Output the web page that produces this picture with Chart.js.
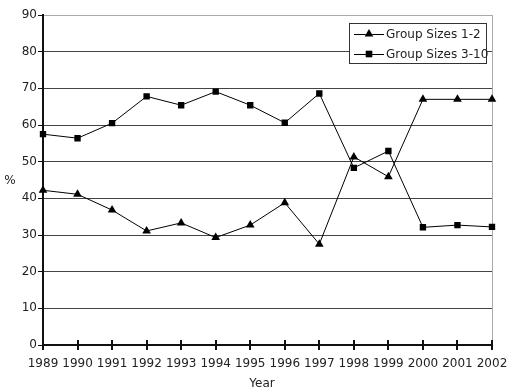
<!DOCTYPE html>
<html lang="en">
<head>
  <meta charset="UTF-8" />
  <title>Group Sizes</title>
  <script src="https://cdn.jsdelivr.net/npm/chart.js"></script>
  <style>
    body { margin: 0; padding: 0; background: #fff; }
    .wrap { width: 512px; height: 392px; position: relative; }
  </style>
</head>
<body>
  <div class="wrap">
    <canvas id="grafico" width="512" height="392"></canvas>
  </div>

  <script>
    const years = ["1989", "1990", "1991", "1992", "1993", "1994", "1995",
                   "1996", "1997", "1998", "1999", "2000", "2001", "2002"];
    const small = [42.2, 41.1, 36.8, 31.1, 33.3, 29.3, 32.7, 38.8, 27.5, 51.3, 45.9, 67.0, 67.0, 67.0];
    const large = [57.5, 56.4, 60.5, 67.8, 65.4, 69.1, 65.4, 60.6, 68.6, 48.3, 52.9, 32.1, 32.7, 32.2];
    const seriesNames = ["Group Sizes 1-2", "Group Sizes 3-10"];
    const yTicks = [0, 10, 20, 30, 40, 50, 60, 70, 80, 90];

    const font = "DejaVu Sans";

    // legend, axis titles and crossing ticks
    const extras = {
      id: "extras",
      afterDraw(chart) {
        const ctx = chart.ctx;
        const x = chart.scales.x;
        const area = chart.chartArea;
        ctx.save();

        // tick marks crossing the x axis
        ctx.strokeStyle = "#111";
        ctx.lineWidth = 2;
        x.ticks.forEach((t, i) => {
          const px = Math.round(x.getPixelForTick(i));
          ctx.beginPath();
          ctx.moveTo(px, area.bottom - 5);
          ctx.lineTo(px, area.bottom + 5);
          ctx.stroke();
        });

        // axis titles
        ctx.fillStyle = "#222";
        ctx.font = "12px '" + font + "'";
        ctx.textAlign = "center";
        ctx.textBaseline = "middle";
        ctx.fillText("%", 10, 181);
        ctx.fillText("Year", 262, 384);

        // legend
        const bx = 349, by = 23, bw = 137, bh = 40;
        ctx.fillStyle = "#fff";
        ctx.fillRect(bx, by, bw, bh);
        ctx.strokeStyle = "#333";
        ctx.lineWidth = 1;
        ctx.strokeRect(bx + 0.5, by + 0.5, bw, bh);
        chart.data.datasets.forEach((ds, i) => {
          const ry = by + 11 + i * 20;
          ctx.strokeStyle = "#000";
          ctx.beginPath();
          ctx.moveTo(354, ry + 0.5);
          ctx.lineTo(384, ry + 0.5);
          ctx.stroke();
          Chart.helpers.drawPoint(ctx, {
            pointStyle: ds.pointStyle,
            radius: ds.pointRadius,
            borderWidth: 0
          }, 369, ry);
          ctx.fillStyle = "#000";
          ctx.fill();
          ctx.fillStyle = "#222";
          ctx.textAlign = "left";
          ctx.fillText(ds.label, 386, ry + 1);
        });
        ctx.restore();
      }
    };

    new Chart(document.getElementById("grafico"), {
      type: "line",
      data: {
        labels: years,
        datasets: [
          {
            label: seriesNames[0],
            data: small,
            borderColor: "#000",
            borderWidth: 1,
            backgroundColor: "#000",
            pointStyle: "triangle",
            pointRadius: 5,
            pointBorderWidth: 0,
            tension: 0
          },
          {
            label: seriesNames[1],
            data: large,
            borderColor: "#000",
            borderWidth: 1,
            backgroundColor: "#000",
            pointStyle: "rect",
            pointRadius: 4.5,
            pointBorderWidth: 0,
            tension: 0
          }
        ]
      },
      options: {
        responsive: false,
        animation: false,
        layout: { padding: { top: 15, right: 20, left: 0, bottom: 0 } },
        plugins: {
          legend: { display: false },
          tooltip: { enabled: false }
        },
        scales: {
          x: {
            offset: false,
            afterFit: s => { s.height = 47; s.paddingRight = 0; },
            grid: {
              offset: false,
              drawTicks: false,
              color: c => c.index === years.length - 1 ? "#aaa" : "rgba(0,0,0,0)"
            },
            border: { display: true, color: "#111", width: 2 },
            ticks: {
              autoSkip: false,
              maxRotation: 0,
              padding: 12,
              color: "#222",
              font: { family: font, size: 12 }
            }
          },
          y: {
            min: 0,
            max: 90,
            afterFit: s => { s.width = 43; },
            afterBuildTicks: s => { s.ticks = yTicks.map(v => ({ value: v })); },
            grid: {
              color: c => c.tick && c.tick.value === 90 ? "#aaa" : "#444",
              tickColor: "#111",
              tickLength: 5
            },
            border: { display: true, color: "#111", width: 2 },
            ticks: {
              padding: 1,
              color: "#222",
              font: { family: font, size: 12 }
            }
          }
        }
      },
      plugins: [extras]
    });
  </script>
</body>
</html>
